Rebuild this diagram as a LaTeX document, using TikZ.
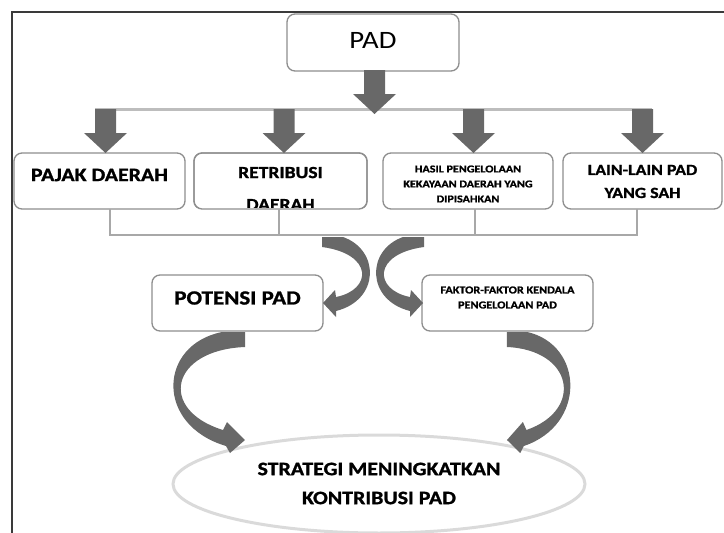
\documentclass[tikz,border=0pt]{standalone}
\usepackage{fontspec}
\setmainfont{Carlito}[FakeStretch=1.15, BoldFeatures={FakeBold=1.2}]
\usetikzlibrary{shapes.geometric,calc}
\definecolor{arrowgray}{HTML}{686868}
\definecolor{boxline}{HTML}{8E8E8E}
\definecolor{connline}{HTML}{A8A8A8}
\definecolor{topline}{HTML}{BDBDBD}
\definecolor{ellline}{HTML}{DADADA}
\definecolor{frameline}{HTML}{3A3A3A}
\begin{document}
\begin{tikzpicture}[x=1pt,y=-1pt,
  box/.style={draw=boxline, line width=1.3pt, rounded corners=8pt, fill=white, inner sep=0pt, outer sep=0pt},
  txt/.style={align=center, inner sep=0pt, text=black},
  conn/.style={draw=connline, line width=1.8pt},
  curvearrow/.style={fill=arrowgray},
  blockdown/.pic={\fill[arrowgray] (0,0) -- (-21.5,-20) -- (-10.5,-20) -- (-10.5,-44) -- (10.5,-44) -- (10.5,-20) -- (21.5,-20) -- cycle;}
]
\useasboundingbox (0,0) rectangle (724,533);
% frame
\draw[frameline, line width=1.2pt] (12,533) -- (12,12) -- (724,12);

% boxes
\node[box, minimum width=172pt, minimum height=57pt] (pad) at (373,42.5) {};
\node[box, minimum width=171pt, minimum height=56pt] (b1) at (99.5,181) {};
\node[box, minimum width=173pt, minimum height=56pt] (b2) at (280.5,181) {};
\node[box, minimum width=170pt, minimum height=56pt] (b3) at (468,181) {};
\node[box, minimum width=159pt, minimum height=56pt] (b4) at (642.5,181) {};
\node[box, minimum width=171pt, minimum height=56pt] (pot) at (237.5,303) {};
\node[box, minimum width=171pt, minimum height=56pt] (fak) at (507.5,303) {};
\node[draw=ellline, line width=3pt, ellipse, minimum width=412pt, minimum height=98pt, inner sep=0pt] (ell) at (379,484) {};

% texts
\node[txt, font=\fontsize{25}{30}\selectfont] (tpad) at (373,40) {PAD};
\node[txt, font=\bfseries\fontsize{19}{23}\selectfont] (t1) at (99.5,175) {PAJAK DAERAH};
\node[txt, font=\bfseries\fontsize{17}{32}\selectfont] (t2) at (280.5,188.5) {RETRIBUSI\\DAERAH};
\fill[white] (195,208) rectangle (366,216);
\draw[box, fill=none] (b2.south west) rectangle (b2.north east);
\node[txt, font=\bfseries\fontsize{10.5}{15}\selectfont] (t3) at (468,184) {HASIL PENGELOLAAN\\KEKAYAAN DAERAH YANG\\DIPISAHKAN};
\node[txt, font=\bfseries\fontsize{15.5}{23}\selectfont] (t4) at (642.5,181.5) {LAIN-LAIN PAD\\YANG SAH};
\node[txt, font=\bfseries\fontsize{20}{24}\selectfont] (tpot) at (237.5,298) {POTENSI PAD};
\node[txt, font=\bfseries\fontsize{10.6}{15}\selectfont] (tfak) at (507.5,297.5) {FAKTOR-FAKTOR KENDALA\\PENGELOLAAN PAD};
\node[txt, font=\bfseries\fontsize{19}{29}\selectfont] (tell) at (379,483.5) {STRATEGI MENINGKATKAN\\KONTRIBUSI PAD};

% top distribution line and block arrows
\coordinate (hl) at (95,109);
\coordinate (hr) at (652,109);
\draw[topline, line width=3pt] (hl) -- (hr);
\pic at ($(pad.south)+(1.5,43)$) {blockdown};
\pic at ([xshift=6pt]b1.north) {blockdown};
\pic at ([xshift=3.5pt]b2.north) {blockdown};
\pic at ([xshift=5.5pt]b3.north) {blockdown};
\pic at (b4.north) {blockdown};

% bottom collecting line
\coordinate (s1) at ([xshift=10.5pt]b1.south);
\coordinate (s4) at ([xshift=-5.5pt]b4.south);
\coordinate (lineY) at (0,235);
\draw[conn] (s1) -- (s1 |- lineY) -- (s4 |- lineY) -- (s4);
\draw[conn] ([xshift=-1.5pt]b2.south) -- ++(0,26);
\draw[conn] ([xshift=7pt]b3.south) -- ++(0,26);

% small curved arrows to POTENSI PAD and FAKTOR
\fill[curvearrow] (322,237) -- (343,237) .. controls (380,250) and (380,300) .. (336,311)
  -- (336,317) -- (323,303) -- (335,290) -- (336,297)
  .. controls (372,290) and (374,254) .. (322,247) -- cycle;
\begin{scope}[shift={(746,0)}, xscale=-1]
\fill[curvearrow] (322,237) -- (343,237) .. controls (380,250) and (380,300) .. (336,311)
  -- (336,317) -- (323,303) -- (335,290) -- (336,297)
  .. controls (372,290) and (374,254) .. (322,247) -- cycle;
\end{scope}

% big curved arrows to the ellipse
\fill[curvearrow] (222,332) -- (245,332) -- (245,347) .. controls (170,350) and (158,410) .. (223,430)
  -- (227,422) -- (245,440) -- (230,453) -- (226,446)
  .. controls (155,425) and (158,345) .. (222,332) -- cycle;
\begin{scope}[shift={(723.8,0)}, xscale=-0.885]
\fill[curvearrow] (222,332) -- (245,332) -- (245,347) .. controls (170,350) and (158,410) .. (223,430)
  -- (227,422) -- (245,440) -- (230,453) -- (226,446)
  .. controls (155,425) and (158,345) .. (222,332) -- cycle;
\end{scope}
\end{tikzpicture}
\end{document}
